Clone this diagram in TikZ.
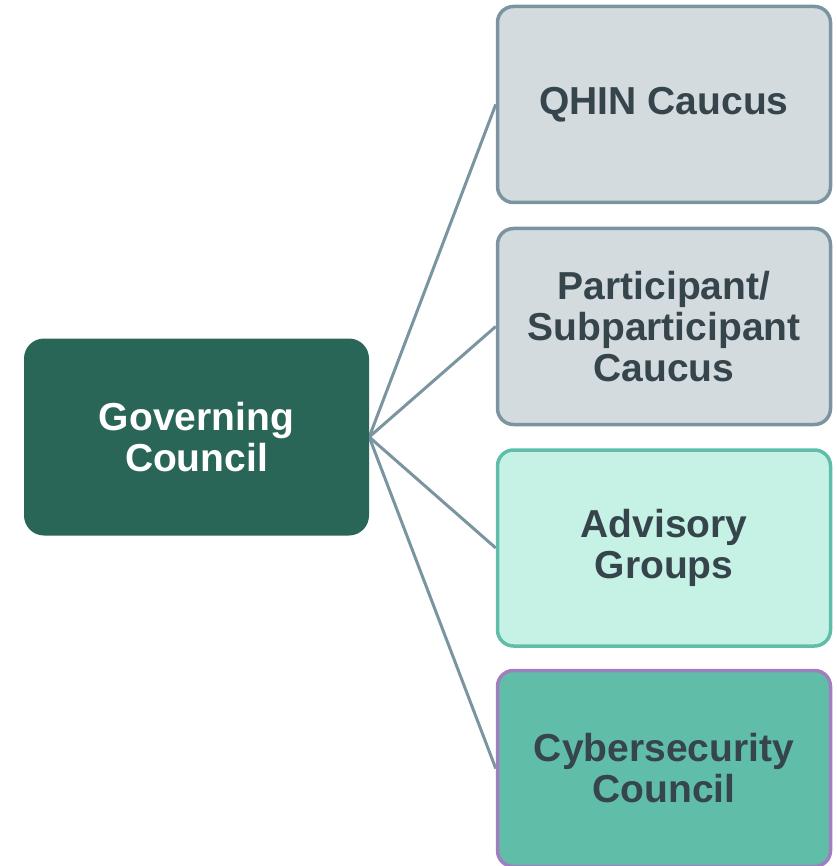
\documentclass[tikz,border=0pt]{standalone}
\usepackage{fontspec}
\setmainfont{Liberation Sans}
\usetikzlibrary{backgrounds}
\definecolor{gcfill}{HTML}{2A6657}
\definecolor{greyfill}{HTML}{D3DBDF}
\definecolor{greyline}{HTML}{7A959F}
\definecolor{mintfill}{HTML}{C6F2E6}
\definecolor{mintline}{HTML}{5FBEA8}
\definecolor{tealfill}{HTML}{5FBDA8}
\definecolor{purpline}{HTML}{A07FC0}
\definecolor{txtdark}{HTML}{36444C}
\tikzset{
  box/.style={rectangle, rounded corners=16pt, align=center, line width=3.5pt,
    minimum width=333pt, minimum height=196pt, inner sep=0pt,
    font=\fontsize{39}{41}\selectfont\bfseries, text=txtdark},
  link/.style={draw=greyline, line width=3pt}
}
\begin{document}
\begin{tikzpicture}[x=1pt,y=-1pt]
\useasboundingbox (0,0) rectangle (836,866);
\node[rectangle, rounded corners=20pt, fill=gcfill, minimum width=345pt, minimum height=197pt,
  inner sep=0pt, align=center, text=white, font=\fontsize{39}{41}\selectfont\bfseries]
  (gc) at (196.5,437) {Governing\\Council};
\node[box, fill=greyfill, draw=greyline] (qhin) at (664,104.5) {QHIN Caucus};
\node[box, fill=greyfill, draw=greyline] (part) at (664,326.5) {Participant/\\Subparticipant\\Caucus};
\node[box, fill=mintfill, draw=mintline] (adv) at (664,548) {Advisory\\Groups};
\node[box, fill=tealfill, draw=purpline] (cyber) at (664,768.5) {Cybersecurity\\Council};
\begin{scope}[on background layer]
\draw[link] (gc.east) -- (qhin.west);
\draw[link] (gc.east) -- (part.west);
\draw[link] (gc.east) -- (adv.west);
\draw[link] (gc.east) -- (cyber.west);
\end{scope}
\end{tikzpicture}
\end{document}
